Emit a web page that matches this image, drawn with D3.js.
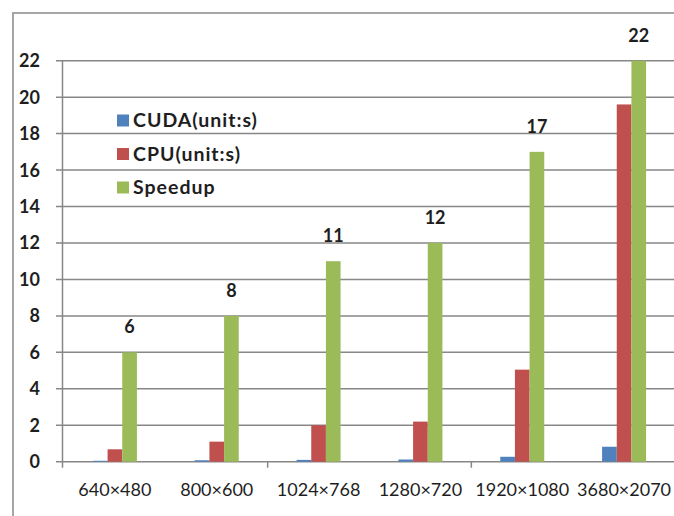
<!DOCTYPE html>
<html>
<head>
<meta charset="utf-8">
<script src="https://cdn.jsdelivr.net/npm/d3@7"></script>
<style>
  html, body { margin: 0; padding: 0; background: #fff; }
  svg { display: block; }
  text { font-family: Lato, "Open Sans", "Liberation Sans", sans-serif; fill: #1e1e1e; }
</style>
</head>
<body>
<svg id="chart" width="674" height="516"></svg>
<script>
const categories = ["640×480", "800×600", "1024×768", "1280×720", "1920×1080", "3680×2070"];
const seriesNames = ["CUDA(unit:s)", "CPU(unit:s)", "Speedup"];
const cudaValues = [0.05, 0.08, 0.1, 0.12, 0.27, 0.82];
const cpuValues = [0.68, 1.1, 2.0, 2.2, 5.05, 19.6];
const speedupValues = [6, 8, 11, 12, 17, 22];
const yTicks = [0, 2, 4, 6, 8, 10, 12, 14, 16, 18, 20, 22];
const colors = ["#4f81bd", "#c0504d", "#9bbb59"];

const series = [cudaValues, cpuValues, speedupValues];
const svg = d3.select("#chart");

// outer frame (cropped chart border)
svg.append("path")
  .attr("d", "M13,516 L13,13 L674,13")
  .attr("fill", "none").attr("stroke", "#a6a6a6").attr("stroke-width", 2);

const y = d3.scaleLinear().domain([0, 22]).range([461.7, 60.7]);
const x0 = d3.scaleBand().domain(categories).range([64, 675]);
const groupW = 44;
const x1 = d3.scaleBand().domain(d3.range(3)).range([0, groupW]);

// gridlines
svg.append("g").selectAll("line").data(yTicks).join("line")
  .attr("x1", 56).attr("x2", 674)
  .attr("y1", d => y(d)).attr("y2", d => y(d))
  .attr("stroke", "#878787").attr("stroke-width", 1.5);

// y axis line
svg.append("line").attr("x1", 62.5).attr("x2", 62.5)
  .attr("y1", y(22)).attr("y2", y(0) + 6)
  .attr("stroke", "#878787").attr("stroke-width", 1.5);

// category tick marks (every two categories)
svg.append("g").selectAll("line").data([2, 4]).join("line")
  .attr("x1", d => x0(categories[d]) ).attr("x2", d => x0(categories[d]))
  .attr("y1", y(0)).attr("y2", y(0) + 6)
  .attr("stroke", "#878787").attr("stroke-width", 1.5);

// y tick labels
svg.append("g").selectAll("text").data(yTicks).join("text")
  .attr("x", 40).attr("y", d => y(d) + 6.5)
  .attr("text-anchor", "end")
  .attr("font-size", 18).attr("font-weight", "bold")
  .text(d => d);

// bars
const groups = svg.append("g").selectAll("g").data(categories).join("g")
  .attr("transform", c => `translate(${x0(c) + (x0.bandwidth() - groupW) / 2},0)`);
groups.selectAll("rect").data((c, i) => series.map((s, k) => ({k, v: s[i]}))).join("rect")
  .attr("x", d => x1(d.k))
  .attr("width", x1.bandwidth())
  .attr("y", d => y(d.v))
  .attr("height", d => y(0) - y(d.v))
  .attr("fill", d => colors[d.k]);

// value labels for speedup
svg.append("g").selectAll("text").data(speedupValues).join("text")
  .attr("x", (v, i) => x0(categories[i]) + (x0.bandwidth() - groupW) / 2 + x1(2) + x1.bandwidth() / 2)
  .attr("y", v => y(v) - 19)
  .attr("text-anchor", "middle")
  .attr("font-size", 18).attr("font-weight", "bold")
  .text(v => v);

// x labels
svg.append("g").selectAll("text").data(categories).join("text")
  .attr("x", c => x0(c) + x0.bandwidth() / 2)
  .attr("y", 496)
  .attr("text-anchor", "middle")
  .attr("font-size", 18)
  .text(c => c);

// legend
const legend = svg.append("g").selectAll("g").data(seriesNames).join("g")
  .attr("transform", (d, i) => `translate(117,${120.5 + i * 33.5})`);
legend.append("rect").attr("x", 0).attr("y", -6).attr("width", 12).attr("height", 12)
  .attr("fill", (d, i) => colors[i]);
legend.append("text").attr("x", 16).attr("y", 6.5)
  .attr("font-size", 19.5).attr("font-weight", "bold").attr("letter-spacing", 1)
  .text(d => d);
</script>
</body>
</html>
